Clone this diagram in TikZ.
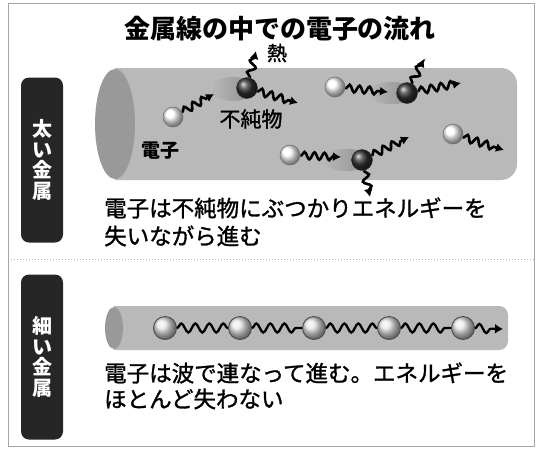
\documentclass[tikz,border=0pt]{standalone}
\usepackage{fontspec}
\setmainfont{Noto Sans CJK JP}
\newfontfamily\jpmid{Noto Sans CJK JP}[FakeBold=1.3]
\usetikzlibrary{decorations.pathmorphing,arrows.meta,fadings}

\begin{document}
\begin{tikzpicture}[x=1pt,y=-1pt,
    electron/.style={circle, inner sep=0pt, minimum size=20pt, ball color=white, draw=black!55, line width=0.6pt},
    impurity/.style={circle, inner sep=0pt, minimum size=21pt, ball color=black!80, draw=black!80, line width=0.4pt},
    bead/.style={circle, inner sep=0pt, minimum size=23pt, ball color=gray!20, draw=black!70, line width=0.9pt},
    wave/.style={decorate, decoration={snake, amplitude=3.6pt, segment length=10pt, pre length=1pt, post length=6pt}, line width=2.6pt, -{Latex[length=8pt,width=9pt]}},
    heat/.style={wave, decoration={snake, amplitude=3.8pt, segment length=12pt, pre length=1pt, post length=6pt}},
    longwave/.style={decorate, decoration={snake, amplitude=4.5pt, segment length=14pt}, line width=2.3pt},
    tag/.style={fill=black!85, rounded corners=8pt, minimum width=42pt, minimum height=165pt, inner sep=0pt, text=white, align=center, font=\fontsize{20}{20.5}\selectfont\bfseries},
    desc/.style={anchor=west, inner sep=0pt, font=\fontsize{22.5}{27}\selectfont\jpmid},
    glow/.style={black!70, opacity=0.4, path fading=west}]
  \useasboundingbox (0,0) rectangle (536,448);
  \draw[gray!70, line width=1pt] (8,3) rectangle (534,446);
  \draw[gray!60, dotted, line width=1pt] (8,259) -- (534,259);

  % title
  \node[font=\fontsize{26}{30}\selectfont\bfseries] (title) at (280,29) {金属線の中での電子の流れ};

  % left tags
  \node[tag] (thick) at (42,160) {太\\い\\金\\属};
  \node[tag] (thin) at (42,357) {細\\い\\金\\属};

  % thick wire
  \begin{scope}
    \clip (115,0) rectangle (536,448);
    \shade[top color=gray!55, middle color=gray!35, bottom color=gray!55, rounded corners=16pt] (60,68) rectangle (517,180);
  \end{scope}
  \fill[gray!80] (115,124) ellipse [x radius=20, y radius=55];

  \fill[glow] (233,89) ellipse [x radius=22, y radius=12];
  \fill[glow] (392,93) ellipse [x radius=24, y radius=11];
  \fill[glow] (347,160) ellipse [x radius=24, y radius=11];

  \node[electron] (e1) at (173,117) {};
  \node[impurity] (i1) at (247,88) {};
  \node[electron] (e2) at (335,87) {};
  \node[impurity] (i2) at (407,93) {};
  \node[electron] (e3) at (453,134) {};
  \node[electron] (e4) at (290,155) {};
  \node[impurity] (i3) at (362,160) {};

  \coordinate (a1) at (214,94);
  \coordinate (a2) at (298,103);
  \coordinate (a3) at (388,92);
  \coordinate (a4) at (461,83);
  \coordinate (a5) at (504,150);
  \coordinate (a6) at (341,157);
  \coordinate (a7) at (409,137);
  \coordinate (h1) at (256,51);
  \coordinate (h2) at (424,59);
  \coordinate (h3) at (370,197);

  \draw[wave] (e1) -- (a1);
  \draw[wave] (i1) -- (a2);
  \draw[wave] (e2) -- (a3);
  \draw[wave] (i2) -- (a4);
  \draw[wave] (e3) -- (a5);
  \draw[wave] (e4) -- (a6);
  \draw[wave] (i3) -- (a7);
  \draw[heat] (i1) -- (h1);
  \draw[heat] (i2) -- (h2);
  \draw[heat] (i3) -- (h3);

  \node[font=\fontsize{20}{22}\selectfont\jpmid] (heatlabel) at (277,53) {熱};
  \node[font=\fontsize{21}{24}\selectfont\jpmid] (implabel) at (251,119) {不純物};
  \node[font=\fontsize{19}{22}\selectfont\bfseries] (elabel) at (160,151) {電子};

  \node[desc] (d1) at (104,208) {電子は不純物にぶつかりエネルギーを};
  \node[desc] (d2) at (104,236) {失いながら進む};

  % thin wire
  \begin{scope}
    \clip (114,0) rectangle (536,448);
    \shade[top color=gray!55, middle color=gray!35, bottom color=gray!55, rounded corners=9pt] (80,306) rectangle (508,350);
  \end{scope}
  \fill[gray!80] (114,328) ellipse [x radius=9, y radius=21];

  \foreach \i/\x in {1/165,2/240,3/314,4/389,5/463}
    \node[bead] (b\i) at (\x,328) {};
  \foreach \i in {1,...,4}{
    \pgfmathtruncatemacro\j{\i+1}
    \draw[longwave] (b\i) -- (b\j);
  }
  \coordinate (tip) at (503,329);
  \draw[longwave, decoration={post length=7pt}, -{Latex[length=8pt,width=10pt]}] (b5) -- (tip);

  \node[desc] (d3) at (104,373) {電子は波で連なって進む。エネルギーを};
  \node[desc] (d4) at (104,399) {ほとんど失わない};
\end{tikzpicture}
\end{document}
